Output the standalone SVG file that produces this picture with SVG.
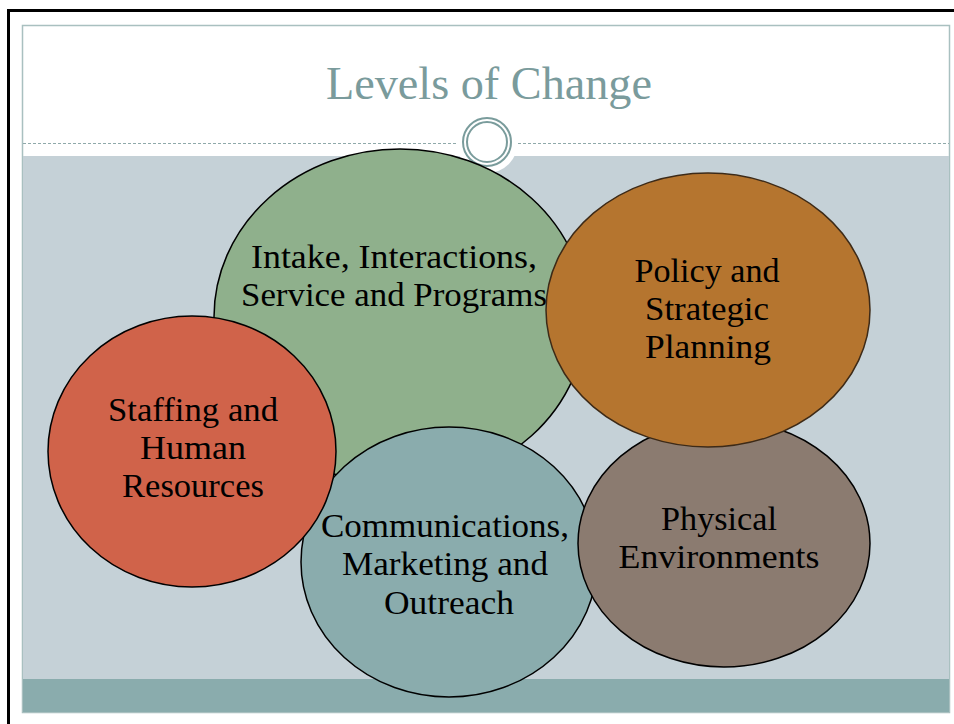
<svg xmlns="http://www.w3.org/2000/svg" width="954" height="724" viewBox="0 0 954 724">
<style>
.lbl{font-family:"Liberation Serif","DejaVu Serif",serif;font-size:34px;fill:#000;text-anchor:middle}
.title{font-family:"Liberation Serif","DejaVu Serif",serif;font-size:46px;fill:#7a9b9c;text-anchor:middle}
.node{stroke:#000;stroke-width:1.5}
</style>
<rect x="0" y="0" width="954" height="724" fill="#fff"/>
<!-- outer frame -->
<line x1="7" y1="10.5" x2="954" y2="10.5" stroke="#000" stroke-width="3"/>
<line x1="8.5" y1="9" x2="8.5" y2="724" stroke="#000" stroke-width="3"/>
<!-- slide -->
<rect x="22.5" y="25.5" width="927" height="687" fill="#fff" stroke="#a9c0c0" stroke-width="1.5"/>
<rect x="23" y="156" width="926" height="523" fill="#c5d1d7"/>
<rect x="23" y="679" width="926" height="33" fill="#8aacad"/>
<line x1="23" y1="143.5" x2="949" y2="143.5" stroke="#8fa9aa" stroke-width="1" stroke-dasharray="3,2"/>
<circle cx="487" cy="142" r="31" fill="#fff"/>
<circle cx="487" cy="142" r="24" fill="#fff" stroke="#7a9c9c" stroke-width="2"/>
<circle cx="487" cy="142" r="20" fill="none" stroke="#7a9c9c" stroke-width="2"/>
<text class="title" x="489" y="99" textLength="326" lengthAdjust="spacingAndGlyphs">Levels of Change</text>
<g id="node-intake">
<ellipse class="node" cx="400" cy="317" rx="186" ry="168" fill="#8fb08c"/>
<text class="lbl" x="394" y="268" textLength="286" lengthAdjust="spacingAndGlyphs">Intake, Interactions,</text>
<text class="lbl" x="394" y="306" textLength="306" lengthAdjust="spacingAndGlyphs">Service and Programs</text>
</g>
<g id="node-communications">
<ellipse class="node" cx="449" cy="562" rx="148" ry="135" fill="#8aacad"/>
<text class="lbl" x="445" y="537" textLength="248" lengthAdjust="spacingAndGlyphs">Communications,</text>
<text class="lbl" x="445" y="575" textLength="206" lengthAdjust="spacingAndGlyphs">Marketing and</text>
<text class="lbl" x="449" y="614" textLength="130" lengthAdjust="spacingAndGlyphs">Outreach</text>
</g>
<g id="node-staffing">
<ellipse class="node" cx="192" cy="451.5" rx="144" ry="135.5" fill="#d0634a"/>
<text class="lbl" x="193" y="421" textLength="170" lengthAdjust="spacingAndGlyphs">Staffing and</text>
<text class="lbl" x="193" y="459" textLength="106" lengthAdjust="spacingAndGlyphs">Human</text>
<text class="lbl" x="193" y="497" textLength="142" lengthAdjust="spacingAndGlyphs">Resources</text>
</g>
<g id="node-physical">
<ellipse class="node" cx="724" cy="543.5" rx="146" ry="123.5" fill="#8b7b70"/>
<text class="lbl" x="719" y="530" textLength="116" lengthAdjust="spacingAndGlyphs">Physical</text>
<text class="lbl" x="719" y="568" textLength="201" lengthAdjust="spacingAndGlyphs">Environments</text>
</g>
<g id="node-policy">
<ellipse cx="708" cy="310" rx="162" ry="137" fill="#b5752f" stroke="#3d2a17" stroke-width="1.5"/>
<text class="lbl" x="707" y="282" textLength="145" lengthAdjust="spacingAndGlyphs">Policy and</text>
<text class="lbl" x="707" y="320" textLength="124" lengthAdjust="spacingAndGlyphs">Strategic</text>
<text class="lbl" x="708" y="358" textLength="126" lengthAdjust="spacingAndGlyphs">Planning</text>
</g>
<g id="connectors"></g>
</svg>
